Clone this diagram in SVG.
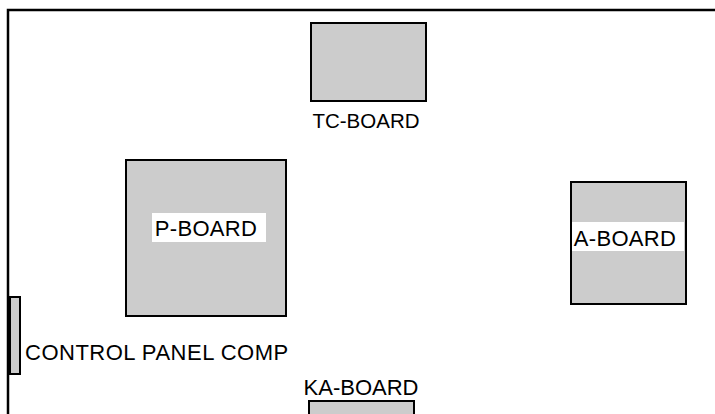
<svg xmlns="http://www.w3.org/2000/svg" width="715" height="414" viewBox="0 0 715 414">
<style>
.board{fill:#cccccc;stroke:#000;stroke-width:2}
.lbl{font-family:"Liberation Sans",Arial,sans-serif;font-size:22px;fill:#000}
.bg{fill:#fff}
</style>
<rect width="715" height="414" fill="#fff"/>
<g id="frame">
<path d="M8,420 V10 H720" fill="none" stroke="#000" stroke-width="2.5"/>
</g>
<g id="tc-board">
<rect class="board" x="311" y="23" width="115" height="78"/>
<text class="lbl" x="366" y="128" text-anchor="middle" style="font-size:20.5px">TC-BOARD</text>
</g>
<g id="p-board">
<rect class="board" x="126" y="160" width="160" height="156"/>
<rect class="bg" x="152" y="213" width="114" height="29"/>
<text class="lbl" x="206" y="236" text-anchor="middle" style="letter-spacing:0.3px">P-BOARD</text>
</g>
<g id="a-board">
<rect class="board" x="571" y="182" width="115" height="122"/>
<rect class="bg" x="572" y="222" width="112" height="29"/>
<text class="lbl" x="625" y="246" text-anchor="middle" style="letter-spacing:0.3px">A-BOARD</text>
</g>
<g id="control-panel">
<rect class="board" x="10" y="297" width="10" height="77"/>
<text class="lbl" x="25" y="360" style="letter-spacing:0.5px">CONTROL PANEL COMP</text>
</g>
<g id="ka-board">
<rect class="board" x="309" y="401" width="105" height="20"/>
<text class="lbl" x="361" y="395" text-anchor="middle">KA-BOARD</text>
</g>
<g id="connectors"></g>
</svg>
